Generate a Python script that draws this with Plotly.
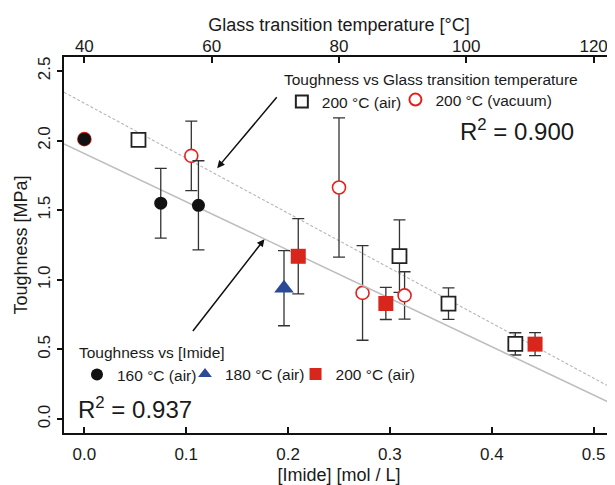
import plotly.graph_objects as go

# ---------------- data ----------------
# Toughness vs [Imide]
imide_160 = [0.0, 0.075, 0.112]
tough_160 = [2.01, 1.55, 1.535]
err_160 = [0.0, 0.25, 0.32]

imide_180 = [0.196]
tough_180 = [0.94]
err_180 = [0.27]

imide_200 = [0.21, 0.296, 0.4425]
tough_200 = [1.169, 0.83, 0.538]
err_200 = [0.27, 0.115, 0.083]

# Toughness vs Glass transition temperature
tg_air = [48.5, 89.5, 97.2, 107.7]
tough_tg_air = [2.005, 1.17, 0.829, 0.54]
err_tg_air = [0.0, 0.26, 0.113, 0.08]

tg_vac = [40.0, 56.8, 80.0, 83.7, 90.3]
tough_tg_vac = [2.01, 1.89, 1.663, 0.906, 0.888]
err_tg_vac = [0.0, 0.25, 0.5, 0.34, 0.17]

# linear fits (intercept, slope)
fit_imide = (1.907, -3.469)
fit_tg = (3.255, -0.024675)

x_range = [-0.02, 0.52]
tg_range = [40 + 160 * v for v in x_range]
y_range = [-0.1, 2.6]

x_ticks = [0.0, 0.1, 0.2, 0.3, 0.4, 0.5]
tg_ticks = [40, 60, 80, 100, 120]
y_ticks = [0.0, 0.5, 1.0, 1.5, 2.0, 2.5]

FONT = "Liberation Sans, Arial, Helvetica, sans-serif"
TXT = "#1a1a1a"
ERRC = "#333333"

fig = go.Figure()

# fit lines (Tg on base axis 'x', imide on overlaying axis 'x2')
fig.add_trace(go.Scatter(
    x=tg_range, y=[fit_tg[0] + fit_tg[1] * t for t in tg_range],
    xaxis="x", mode="lines", showlegend=False, hoverinfo="skip",
    line=dict(color="#b4b4b4", width=1.1, dash="3px,2px")))

def eb(arr):
    return dict(type="data", array=arr, visible=True, color=ERRC, thickness=1.3, width=6)

# Tg data
fig.add_trace(go.Scatter(
    x=tg_air, y=tough_tg_air, xaxis="x", mode="markers", name="200 °C (air)",
    legend="legend",
    marker=dict(symbol="square", size=14, color="white", line=dict(color="#222", width=1.8)),
    error_y=eb(err_tg_air)))
fig.add_trace(go.Scatter(
    x=tg_vac, y=tough_tg_vac, xaxis="x", mode="markers", name="200 °C (vacuum)",
    legend="legend5",
    marker=dict(symbol="circle", size=13, color="white", line=dict(color="#e3211c", width=1.6)),
    error_y=eb(err_tg_vac)))

# Imide data
fig.add_trace(go.Scatter(
    x=x_range, y=[fit_imide[0] + fit_imide[1] * v for v in x_range],
    xaxis="x2", mode="lines", showlegend=False, hoverinfo="skip",
    line=dict(color="#bdbdbd", width=1.5)))
fig.add_trace(go.Scatter(
    x=imide_160, y=tough_160, xaxis="x2", mode="markers", name="160 °C (air)", legend="legend2",
    marker=dict(symbol="circle", size=13, color="#111111", line=dict(width=0)),
    error_y=eb(err_160)))
fig.add_trace(go.Scatter(
    x=imide_180, y=tough_180, xaxis="x2", mode="markers", name="180 °C (air)", legend="legend3",
    marker=dict(symbol="triangle-up", size=17, color="#2a4a98", line=dict(width=0)),
    error_y=eb(err_180)))
fig.add_trace(go.Scatter(
    x=imide_200, y=tough_200, xaxis="x2", mode="markers", name="200 °C (air)", legend="legend4",
    marker=dict(symbol="square", size=15, color="#d9261c", line=dict(width=0)),
    error_y=eb(err_200)))

annotations = [
    dict(xref="paper", yref="paper", x=0.7155, y=0.8066, xanchor="left", yanchor="middle",
         text="R<sup>2</sup> = 0.900", showarrow=False, font=dict(size=24, color=TXT, family=FONT)),
    dict(xref="paper", yref="paper", x=0.022, y=0.067, xanchor="left", yanchor="middle",
         text="R<sup>2</sup> = 0.937", showarrow=False, font=dict(size=24, color=TXT, family=FONT)),
    # arrows
    dict(x=0.1304, y=1.802, ax=0.1901, ay=2.321, xref="x2", yref="y", axref="x2", ayref="y",
         text="", showarrow=True, arrowhead=2, arrowsize=1, arrowwidth=1.5, arrowcolor="#111"),
    dict(x=0.1768, y=1.292, ax=0.1054, ay=0.6217, xref="x2", yref="y", axref="x2", ayref="y",
         text="", showarrow=True, arrowhead=2, arrowsize=1, arrowwidth=1.5, arrowcolor="#111"),
]

axis_common = dict(showgrid=False, zeroline=False, tickcolor="#111", tickwidth=1.5, automargin=False,
                   tickfont=dict(size=17, color=TXT, family=FONT))

LEG_FONT = dict(size=15.5, color=TXT, family=FONT)

def leg(x, y, yanchor="middle", title=None, side="top", xanchor="left"):
    d = dict(orientation="h", x=x, xanchor=xanchor, y=y, yanchor=yanchor,
             bgcolor="rgba(0,0,0,0)", font=LEG_FONT, itemsizing="constant", tracegroupgap=0)
    if title:
        d["title"] = dict(text=title, side=side, font=LEG_FONT)
    return d

# the page body adds an 8px offset, so the figure is 8px smaller and margins shifted
fig.update_layout(
    width=607, height=477,
    margin=dict(l=56, r=1, t=49, b=52),
    paper_bgcolor="white", plot_bgcolor="white",
    font=dict(family=FONT, color=TXT),
    xaxis=dict(range=tg_range, tickvals=tg_ticks, side="top", anchor="y",
               ticks="inside", ticklen=6, showline=True, mirror=True, linecolor="#111", linewidth=2,
               ticklabelstandoff=-4,
               title=dict(text="Glass transition temperature [°C]", font=dict(size=18, color=TXT, family=FONT), standoff=1),
               **axis_common),
    xaxis2=dict(range=x_range, tickvals=x_ticks, ticktext=[f"{v:.1f}" for v in x_ticks],
                overlaying="x", side="bottom", anchor="y",
                ticks="inside", ticklen=6, showline=False, ticklabelstandoff=9,
                title=dict(text="[Imide] [mol / L]", font=dict(size=18, color=TXT, family=FONT), standoff=10),
                **axis_common),
    yaxis=dict(range=y_range, tickvals=y_ticks, ticktext=[f"{v:.1f}" for v in y_ticks],
               ticks="outside", ticklen=5, tickangle=-90, showline=True, mirror=True,
               linecolor="#111", linewidth=2,
               title=dict(text="Toughness [MPa]", font=dict(size=18, color=TXT, family=FONT), standoff=3),
               **axis_common),
    legend=leg(0.667, 0.979, yanchor="top", xanchor="center",
               title="Toughness vs Glass transition temperature", side="top center"),
    legend5=leg(0.6026, 0.8856),
    legend2=leg(0.0236, 0.253, yanchor="top", title="Toughness vs [Imide]", side="top"),
    legend3=leg(0.2200, 0.156),
    legend4=leg(0.4210, 0.156),
    annotations=annotations,
)

fig.write_html("out.html")
